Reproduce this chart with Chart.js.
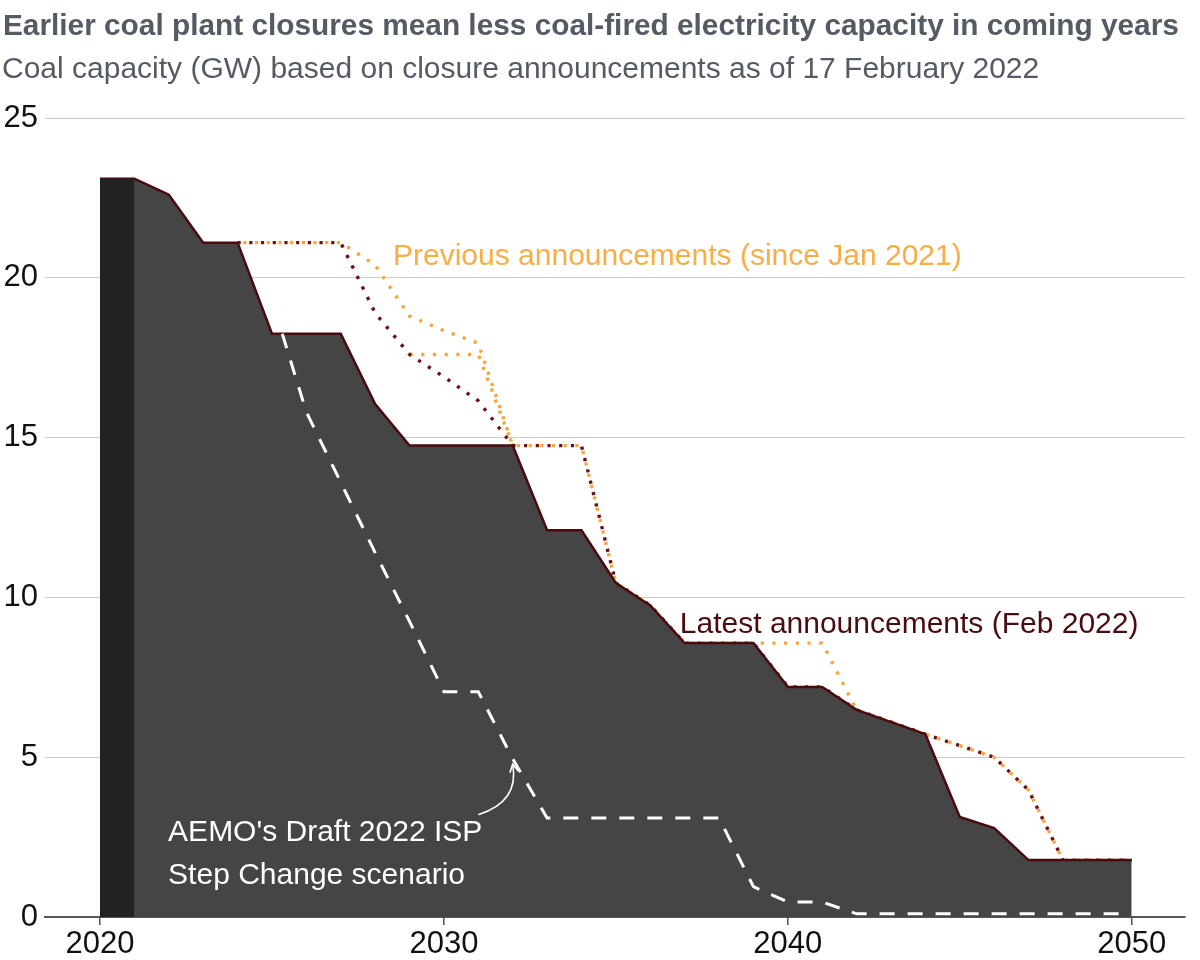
<!DOCTYPE html>
<html>
<head>
<meta charset="utf-8">
<script src="https://cdn.jsdelivr.net/npm/chart.js@4/dist/chart.umd.min.js"></script>
<style>
  html, body { margin: 0; padding: 0; background: #ffffff; }
  #wrap { width: 1200px; height: 960px; position: relative; }
</style>
</head>
<body>
<div id="wrap"><canvas id="c" width="1200" height="960"></canvas></div>
<script>
// ---- Data ----
const titleText = "Earlier coal plant closures mean less coal-fired electricity capacity in coming years";
const subtitleText = "Coal capacity (GW) based on closure announcements as of 17 February 2022";

const xTickYears = [2020, 2030, 2040, 2050];
const yTickValues = [0, 5, 10, 15, 20, 25];

// Latest announcements (Feb 2022)
const latestYears = [2020, 2021, 2022, 2023, 2024, 2025, 2027, 2028, 2029, 2032, 2033, 2034, 2035, 2036, 2037, 2039, 2040, 2041, 2042, 2044, 2045, 2046, 2047, 2050];
const latestGW    = [23.1, 23.1, 22.6, 21.1, 21.1, 18.25, 18.25, 16.05, 14.75, 14.75, 12.1, 12.1, 10.45, 9.75, 8.57, 8.57, 7.2, 7.2, 6.48, 5.72, 3.13, 2.78, 1.78, 1.78];

// Current year band
const bandYears = [2020, 2021];
const bandGW    = [23.1, 23.1];

// Previous announcements (since Jan 2021) - dark red dotted
const prevRedYears = [2024, 2027, 2028, 2029, 2030, 2031, 2032, 2034, 2035, 2036, 2037, 2039, 2040, 2041, 2042, 2044, 2046, 2047, 2048, 2050];
const prevRedGW    = [21.1, 21.1, 18.9, 17.6, 16.9, 16.15, 14.75, 14.75, 10.45, 9.75, 8.57, 8.57, 7.2, 7.2, 6.48, 5.72, 5.0, 3.97, 1.78, 1.78];

// Previous announcements - orange dotted (A)
const prevOrangeYears = [2024, 2027, 2028, 2029, 2030, 2031, 2032, 2034, 2035, 2036, 2037, 2039, 2041, 2042, 2044, 2046, 2047, 2048, 2050];
const prevOrangeGW    = [21.1, 21.1, 20.4, 18.8, 18.35, 17.95, 14.75, 14.75, 10.45, 9.75, 8.57, 8.57, 8.57, 6.48, 5.72, 5.0, 3.97, 1.78, 1.78];

// Previous announcements - orange dotted (B)
const prevOrangeBYears = [2029, 2031, 2032];
const prevOrangeBGW    = [17.6, 17.6, 14.75];

// AEMO's Draft 2022 ISP Step Change scenario
const aemoYears = [2025.3, 2026, 2027, 2028, 2029, 2030, 2031, 2032, 2033, 2038, 2039, 2040, 2041, 2042, 2050];
const aemoGW    = [18.25, 15.8, 13.6, 11.4, 9.25, 7.05, 7.05, 4.95, 3.1, 3.1, 0.95, 0.47, 0.47, 0.1, 0.1];

// Annotation anchors (data coordinates)
const prevLabel   = { text: "Previous announcements (since Jan 2021)", x: 2028.52, y: 20.65 };
const latestLabel = { text: "Latest announcements (Feb 2022)", x: 2036.86, y: 9.14 };
const aemoLines   = [ { text: "AEMO's Draft 2022 ISP", x: 2021.98, y: 2.63 }, { text: "Step Change scenario", x: 2021.98, y: 1.28 } ];
const arrowPts    = { from: [2031.0, 3.2], ctrl: [2032.2, 3.6], to: [2032.0, 4.78] };

const pts = (xs, ys) => xs.map((x, i) => ({ x: x, y: ys[i] }));

const FONT = "'Liberation Sans', Arial, Helvetica, sans-serif";

const textPlugin = {
  id: 'textPlugin',
  afterDraw(chart) {
    const ctx = chart.ctx;
    const xs = chart.scales.x, ys = chart.scales.y;
    ctx.save();
    // titles
    ctx.textBaseline = 'alphabetic';
    ctx.textAlign = 'left';
    ctx.fillStyle = '#555b65';
    ctx.font = "bold 29.8px " + FONT;
    ctx.fillText(titleText, 3, 35);
    ctx.font = "30px " + FONT;
    ctx.fillText(subtitleText, 2, 78);

    // annotations
    ctx.textBaseline = 'middle';
    ctx.font = "30px " + FONT;
    ctx.fillStyle = '#f8ae45';
    ctx.fillText(prevLabel.text, xs.getPixelForValue(prevLabel.x), ys.getPixelForValue(prevLabel.y));
    ctx.fillStyle = '#4a0c10';
    ctx.fillText(latestLabel.text, xs.getPixelForValue(latestLabel.x), ys.getPixelForValue(latestLabel.y));
    ctx.fillStyle = '#ffffff';
    aemoLines.forEach(l => ctx.fillText(l.text, xs.getPixelForValue(l.x), ys.getPixelForValue(l.y)));

    // arrow
    const fx = xs.getPixelForValue(arrowPts.from[0]), fy = ys.getPixelForValue(arrowPts.from[1]);
    const cx = xs.getPixelForValue(arrowPts.ctrl[0]), cy = ys.getPixelForValue(arrowPts.ctrl[1]);
    const tx = xs.getPixelForValue(arrowPts.to[0]), ty = ys.getPixelForValue(arrowPts.to[1]);
    ctx.strokeStyle = '#ffffff';
    ctx.lineWidth = 1.6;
    ctx.beginPath();
    ctx.moveTo(fx, fy);
    ctx.quadraticCurveTo(cx, cy, tx, ty);
    ctx.stroke();
    const ang = Math.atan2(ty - cy, tx - cx);
    const hl = 9;
    ctx.beginPath();
    ctx.moveTo(tx - hl * Math.cos(ang - 0.5), ty - hl * Math.sin(ang - 0.5));
    ctx.lineTo(tx, ty);
    ctx.lineTo(tx - hl * Math.cos(ang + 0.5), ty - hl * Math.sin(ang + 0.5));
    ctx.stroke();
    ctx.restore();
  }
};

const dot = [3.2, 8.5];

new Chart(document.getElementById('c'), {
  type: 'line',
  data: {
    datasets: [
      {
        label: 'AEMO Step Change',
        data: pts(aemoYears, aemoGW),
        borderColor: '#ffffff',
        borderWidth: 3,
        borderDash: [15, 13],
        fill: false,
        pointRadius: 0,
        order: 0
      },
      {
        label: 'Current',
        data: pts(bandYears, bandGW),
        borderWidth: 0,
        borderColor: 'rgba(0,0,0,0)',
        backgroundColor: '#222222',
        fill: 'origin',
        pointRadius: 0,
        order: 1
      },
      {
        label: 'Latest announcements (Feb 2022)',
        data: pts(latestYears, latestGW),
        borderColor: '#4a0a0e',
        borderWidth: 2.5,
        backgroundColor: '#454545',
        fill: 'origin',
        pointRadius: 0,
        order: 2
      },
      {
        label: 'Previous (red)',
        data: pts(prevRedYears, prevRedGW),
        borderColor: '#6e1116',
        borderWidth: 3.4,
        borderDash: dot,
        borderDashOffset: 0,
        fill: false,
        pointRadius: 0,
        order: 3
      },
      {
        label: 'Previous (orange)',
        data: pts(prevOrangeYears, prevOrangeGW),
        borderColor: '#f5a63d',
        borderWidth: 3.4,
        borderDash: dot,
        borderDashOffset: 6,
        fill: false,
        pointRadius: 0,
        order: 4
      },
      {
        label: 'Previous (orange B)',
        data: pts(prevOrangeBYears, prevOrangeBGW),
        borderColor: '#f5a63d',
        borderWidth: 3.4,
        borderDash: dot,
        fill: false,
        pointRadius: 0,
        order: 5
      }
    ]
  },
  options: {
    responsive: false,
    animation: false,
    devicePixelRatio: 1,
    layout: { padding: { top: 118, right: 15, left: 0, bottom: 0 } },
    plugins: {
      legend: { display: false },
      title: { display: false },
      tooltip: { enabled: false }
    },
    scales: {
      x: {
        type: 'linear',
        min: 2018.4,
        max: 2051.55,
        afterBuildTicks: (s) => { s.ticks = xTickYears.map(v => ({ value: v })); },
        afterFit: (s) => { s.height = 43; },
        ticks: {
          color: '#111111',
          font: { family: FONT, size: 31 },
          padding: 1,
          maxRotation: 0,
          callback: (v) => String(v)
        },
        grid: { drawOnChartArea: false, drawTicks: true, tickLength: 8, color: '#555555', lineWidth: 1.5 },
        border: { display: true, color: '#555555', width: 2 }
      },
      y: {
        min: 0,
        max: 25,
        afterBuildTicks: (s) => { s.ticks = yTickValues.map(v => ({ value: v })); },
        afterFit: (s) => { s.width = 45; },
        ticks: {
          color: '#111111',
          font: { family: FONT, size: 31 },
          padding: 7
        },
        grid: { color: '#cccccc', lineWidth: 1, drawTicks: false },
        border: { display: false }
      }
    }
  },
  plugins: [textPlugin]
});
</script>
</body>
</html>
